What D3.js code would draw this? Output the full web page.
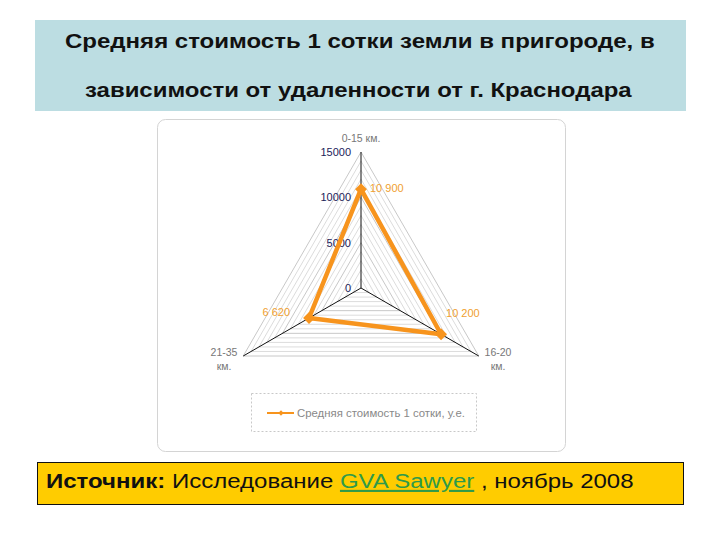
<!DOCTYPE html>
<html>
<head>
<meta charset="utf-8">
<script src="https://cdn.jsdelivr.net/npm/d3@7"></script>
<style>
  html, body { margin: 0; padding: 0; background: #fff; }
  svg { display: block; }
</style>
</head>
<body>
<svg width="720" height="540"></svg>
<script>
// chart data
const TITLE_LINES = ["Средняя стоимость 1 сотки земли в пригороде, в", "зависимости от удаленности от г. Краснодара"];
const CATEGORIES = [["0-15 км."], ["16-20", "км."], ["21-35", "км."]];
const VALUES = [10900, 10200, 6620];
const VALUE_LABELS = ["10 900", "10 200", "6 620"];
const TICKS = [0, 5000, 10000, 15000];
const SERIES_NAME = "Средняя стоимость 1 сотки, у.е.";

var svg = d3.select("svg");
var FONT = "Liberation Sans, Arial, sans-serif";

// stretch a text horizontally so it spans [x0, x1] (the slide picture is widened)
function stretch(sel, x0, x1) {
  var w = sel.node().getBBox().width;
  var k = (x1 - x0) / w;
  sel.attr("transform", "translate(" + x0 + ",0) scale(" + k + ",1) translate(" + (-x0) + ",0)");
}

// title band
svg.append("rect").attr("x", 35).attr("y", 20).attr("width", 651).attr("height", 91)
   .attr("fill", "#bcdde2");
var titleSpan = [[65, 655], [85, 633]];
TITLE_LINES.forEach(function(line, i) {
  var t = svg.append("text")
     .attr("x", titleSpan[i][0]).attr("y", 48 + i * 49)
     .attr("font-family", FONT)
     .attr("font-weight", "bold").attr("font-size", "20px")
     .attr("fill", "#111")
     .text(line);
  stretch(t, titleSpan[i][0], titleSpan[i][1]);
});

// chart panel
svg.append("rect").attr("x", 157.5).attr("y", 119.5).attr("width", 408).attr("height", 332)
   .attr("rx", 8).attr("fill", "#fff").attr("stroke", "#d4d4d4");

var cx = 361, cy = 288;
var r = d3.scaleLinear().domain([0, 15000]).range([0, 136]);
function angle(i) { return -Math.PI / 2 + i * 2 * Math.PI / CATEGORIES.length; }
function pt(i, v) { return [cx + r(v) * Math.cos(angle(i)), cy + r(v) * Math.sin(angle(i))]; }

var g = svg.append("g");

// grid triangles
var gridVals = d3.range(1000, 15001, 1000);
g.selectAll(".grid").data(gridVals).enter().append("polygon")
 .attr("points", function(v) { return CATEGORIES.map(function(c, i) { return pt(i, v).join(","); }).join(" "); })
 .attr("fill", "none")
 .attr("stroke", function(v) { return v % 5000 === 0 ? "#c8c8c8" : "#dcdcdc"; })
 .attr("stroke-width", 1);

// axes
g.selectAll(".axis").data(CATEGORIES).enter().append("line")
 .attr("x1", cx).attr("y1", cy)
 .attr("x2", function(d, i) { return pt(i, 15000)[0]; })
 .attr("y2", function(d, i) { return pt(i, 15000)[1]; })
 .attr("stroke", "#111").attr("stroke-width", 1);

// tick labels
g.selectAll(".tick").data(TICKS).enter().append("text")
 .attr("x", cx - 10).attr("y", function(d) { return cy - r(d) + 4; })
 .attr("text-anchor", "end")
 .attr("font-family", FONT).attr("font-size", "11px")
 .attr("fill", "#1c1c5a")
 .text(function(d) { return d; });

// category labels
var catPos = [[361, 142], [498, 356], [224, 356]];
CATEGORIES.forEach(function(lines, i) {
  var t = g.append("text")
   .attr("x", catPos[i][0]).attr("y", catPos[i][1])
   .attr("text-anchor", "middle")
   .attr("font-family", FONT).attr("font-size", "10.5px")
   .attr("fill", "#777");
  lines.forEach(function(l, k) {
    t.append("tspan").attr("x", catPos[i][0]).attr("dy", k === 0 ? 0 : 14).text(l);
  });
});

// series
var orange = "#f7941d";
var pts = VALUES.map(function(v, i) { return pt(i, v); });
g.append("polygon").attr("points", pts.map(function(p) { return p.join(","); }).join(" "))
 .attr("fill", "none").attr("stroke", orange).attr("stroke-width", 4.5)
 .attr("stroke-linejoin", "round");
g.selectAll(".mk").data(pts).enter().append("path")
 .attr("transform", function(d) { return "translate(" + d[0] + "," + d[1] + ") rotate(45)"; })
 .attr("d", d3.symbol().type(d3.symbolSquare).size(70))
 .attr("fill", orange);

// value labels
var lblOff = [[9, 3, "start"], [5, -17, "start"], [-19, -2, "end"]];
g.selectAll(".vl").data(VALUE_LABELS).enter().append("text")
 .attr("x", function(d, i) { return pts[i][0] + lblOff[i][0]; })
 .attr("y", function(d, i) { return pts[i][1] + lblOff[i][1]; })
 .attr("text-anchor", function(d, i) { return lblOff[i][2]; })
 .attr("font-family", FONT).attr("font-size", "11px")
 .attr("fill", "#f0a030")
 .text(function(d) { return d; });

// legend
svg.append("rect").attr("x", 251.5).attr("y", 393.5).attr("width", 225).attr("height", 38)
   .attr("fill", "#fff").attr("stroke", "#c8c8c8").attr("stroke-dasharray", "2,2");
svg.append("line").attr("x1", 267).attr("x2", 294).attr("y1", 413).attr("y2", 413)
   .attr("stroke", orange).attr("stroke-width", 2);
svg.append("path").attr("transform", "translate(281,413) rotate(45)")
   .attr("d", d3.symbol().type(d3.symbolSquare).size(14)).attr("fill", orange);
var leg = svg.append("text").attr("x", 297).attr("y", 417)
   .attr("font-family", FONT).attr("font-size", "10.5px")
   .attr("fill", "#888").text(SERIES_NAME);
stretch(leg, 297, 465);

// source box
svg.append("rect").attr("x", 37.5).attr("y", 462.5).attr("width", 646).attr("height", 42)
   .attr("fill", "#ffcc00").attr("stroke", "#111").attr("stroke-width", 1);
var src = svg.append("text").attr("x", 46).attr("y", 488)
   .attr("font-family", FONT).attr("font-size", "21px")
   .attr("fill", "#111");
src.append("tspan").attr("font-weight", "bold").text("Источник:");
src.append("tspan").text(" Исследование ");
src.append("tspan").attr("fill", "#2e9a4a").attr("text-decoration", "underline").text("GVA Sawyer");
src.append("tspan").text(" , ноябрь 2008");
stretch(src, 46, 634);
</script>
</body>
</html>
